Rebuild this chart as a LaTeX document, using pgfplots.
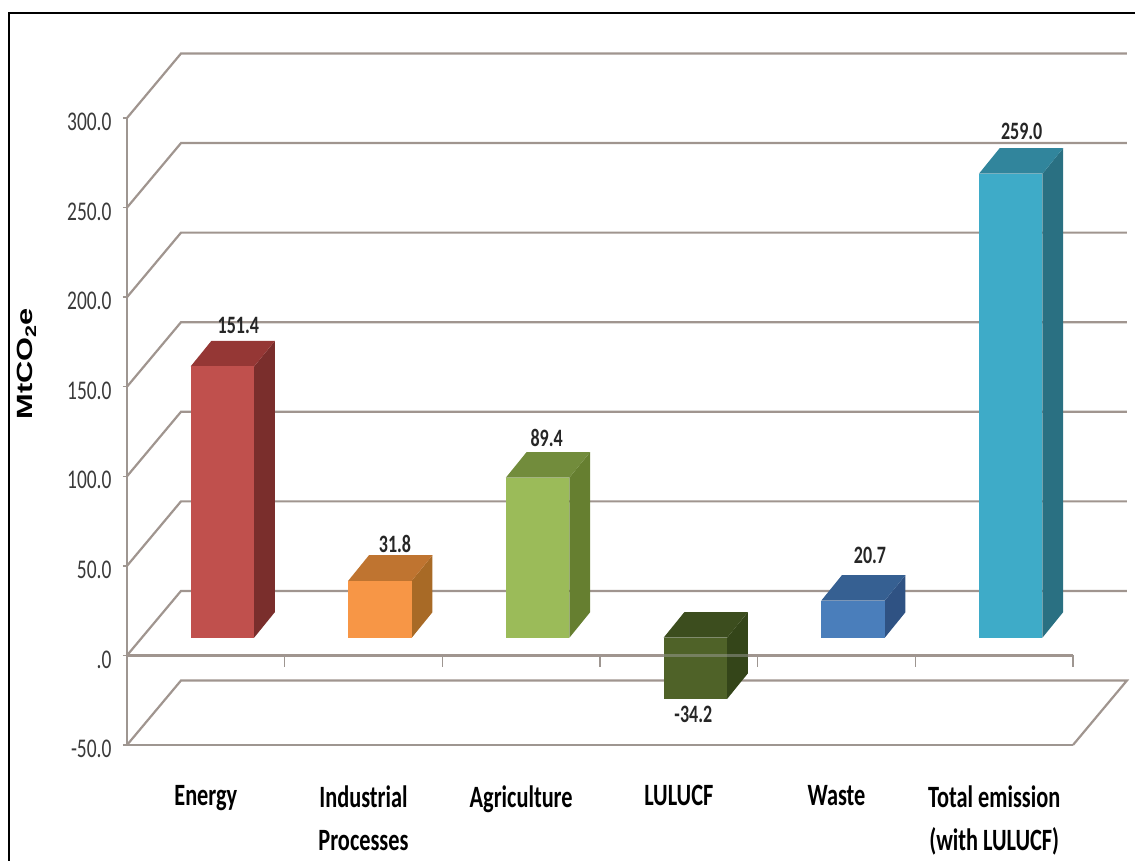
\documentclass[border=0pt]{standalone}
\usepackage{fontspec}
\usepackage{pgfplots}
\pgfplotsset{compat=1.18}
\setmainfont{Carlito}
\newfontfamily\lab[FakeStretch=0.72]{Carlito}
\newfontfamily\unit[FakeStretch=1.4]{Liberation Sans}

\definecolor{gridc}{HTML}{A0958F}
\definecolor{axisc}{HTML}{9E9691}
\definecolor{tickc}{HTML}{3A3A3A}
\definecolor{c1}{HTML}{C0504D}
\definecolor{c1top}{HTML}{953735}
\definecolor{c1side}{HTML}{7A2E2C}
\definecolor{c2}{HTML}{F79646}
\definecolor{c2top}{HTML}{BF7430}
\definecolor{c2side}{HTML}{A86A26}
\definecolor{c3}{HTML}{9BBB59}
\definecolor{c3top}{HTML}{728C3C}
\definecolor{c3side}{HTML}{667F30}
\definecolor{c4}{HTML}{4F6228}
\definecolor{c4top}{HTML}{3C4D1E}
\definecolor{c4side}{HTML}{344519}
\definecolor{c5}{HTML}{4A7EBB}
\definecolor{c5top}{HTML}{366092}
\definecolor{c5side}{HTML}{2F5283}
\definecolor{c6}{HTML}{3EABC8}
\definecolor{c6top}{HTML}{31859C}
\definecolor{c6side}{HTML}{2A7082}

\pgfplotsset{
  wall/.style={gridc, line width=2.2pt, forget plot},
  front/.style={ybar, bar width=63.5pt, bar shift=0pt, fill=#1, draw=none, forget plot,
    xshift=16.5pt, yshift=17.7pt},
  depth/.style={fill=#1, draw=none, forget plot, xshift=16.5pt, yshift=17.7pt},
  val/.style 2 args={nodes near coords, nodes near coords style={
    anchor=center, text=black!85, font=\lab\bfseries\fontsize{25}{25}\selectfont,
    xshift=#1, yshift=#2}},
}

\begin{document}
\begin{tikzpicture}[x=1pt,y=1pt]
\path[use as bounding box] (0,0) rectangle (1135,861);
\draw[black, line width=2.2pt] (9,0) -- (9,847.7) -- (1135,847.7);
\begin{axis}[
    at={(127pt,116pt)}, anchor=south west,
    scale only axis, width=946pt, height=627pt,
    xmin=-0.5, xmax=5.5, ymin=-50, ymax=300,
    clip=false,
    axis lines=left,
    axis line style={-, axisc, line width=1.6pt},
    xtick={0,1,2,3,4,5},
    xticklabels={Energy,{Industrial\\Processes},Agriculture,LULUCF,Waste,{Total emission\\(with LULUCF)}},
    x tick style={draw=none},
    xticklabel style={align=center, anchor=north, yshift=-33pt, text=black,
      font=\lab\bfseries\fontsize{31}{43}\selectfont},
    ytick={-50,0,50,100,150,200,250,300},
    yticklabels={-50.0,.0,50.0,100.0,150.0,200.0,250.0,300.0},
    y tick style={axisc, line width=1.4pt},
    tick align=outside,
    major tick length=4pt,
    yticklabel style={anchor=east, xshift=-8pt, yshift=-4pt, text=tickc,
      font=\lab\fontsize{27}{27}\selectfont},
    /pgf/number format/assume math mode=true,
    /pgf/number format/fixed, /pgf/number format/fixed zerofill, /pgf/number format/precision=1,
    ylabel={\textbf{MtCO\textsubscript{2}e}},
    every axis y label/.style={at={(axis description cs:-0.1062,0.608)}, rotate=90, anchor=center,
      font=\unit\fontsize{22}{22}\selectfont},
]
% back wall and floor
\addplot[wall] coordinates {(-0.5,300) (-0.1575,336) (5.842,336)};
\addplot[wall] coordinates {(-0.5,250) (-0.1575,286) (5.842,286)};
\addplot[wall] coordinates {(-0.5,200) (-0.1575,236) (5.842,236)};
\addplot[wall] coordinates {(-0.5,150) (-0.1575,186) (5.842,186)};
\addplot[wall] coordinates {(-0.5,100) (-0.1575,136) (5.842,136)};
\addplot[wall] coordinates {(-0.5,50) (-0.1575,86) (5.842,86)};
\addplot[wall] coordinates {(-0.5,0) (-0.1575,36) (5.842,36)};
\addplot[wall] coordinates {(-0.5,-50) (-0.1575,-14) (5.842,-14) (5.5,-50)};
% zero line and its ticks
\addplot[wall] coordinates {(-0.5,0) (5.5,0)};
\addplot[ycomb, axisc, line width=1.2pt, no marks, forget plot] coordinates {
  (0.5,-6.5) (1.5,-6.5) (2.5,-6.5) (3.5,-6.5) (4.5,-6.5) (5.5,-6.5)};

% Energy
\addplot[depth=c1side] coordinates {(0.2014,0) (0.3327,14.24) (0.3327,165.64) (0.2014,151.4)} --cycle;
\addplot[depth=c1top] coordinates {(-0.2014,151.4) (0.2014,151.4) (0.3327,165.64) (-0.0701,165.64)} --cycle;
\addplot[front=c1, val={16pt}{41pt}] coordinates {(0,151.4)};
% Industrial Processes
\addplot[depth=c2side] coordinates {(1.2014,0) (1.3327,14.24) (1.3327,46.04) (1.2014,31.8)} --cycle;
\addplot[depth=c2top] coordinates {(0.7986,31.8) (1.2014,31.8) (1.3327,46.04) (0.9299,46.04)} --cycle;
\addplot[front=c2, val={15pt}{37pt}] coordinates {(1,31.8)};
% Agriculture
\addplot[depth=c3side] coordinates {(2.2014,0) (2.3327,14.24) (2.3327,103.64) (2.2014,89.4)} --cycle;
\addplot[depth=c3top] coordinates {(1.7986,89.4) (2.2014,89.4) (2.3327,103.64) (1.9299,103.64)} --cycle;
\addplot[front=c3, val={9pt}{40pt}] coordinates {(2,89.4)};
% LULUCF
\addplot[depth=c4side] coordinates {(3.2014,0) (3.3327,14.24) (3.3327,-19.96) (3.2014,-34.2)} --cycle;
\addplot[depth=c4top] coordinates {(2.7986,0) (3.2014,0) (3.3327,14.24) (2.9299,14.24)} --cycle;
\addplot[front=c4, val={-2pt}{-15pt}] coordinates {(3,-34.2)};
% Waste
\addplot[depth=c5side] coordinates {(4.2014,0) (4.3327,14.24) (4.3327,34.94) (4.2014,20.7)} --cycle;
\addplot[depth=c5top] coordinates {(3.7986,20.7) (4.2014,20.7) (4.3327,34.94) (3.9299,34.94)} --cycle;
\addplot[front=c5, val={17pt}{45pt}] coordinates {(4,20.7)};
% Total emission
\addplot[depth=c6side] coordinates {(5.2014,0) (5.3327,14.24) (5.3327,273.24) (5.2014,259)} --cycle;
\addplot[depth=c6top] coordinates {(4.7986,259) (5.2014,259) (5.3327,273.24) (4.9299,273.24)} --cycle;
\addplot[front=c6, val={11pt}{42pt}] coordinates {(5,259)};

% zero line showing through the LULUCF bar
\addplot[gray!70, line width=2.2pt, opacity=0.45, forget plot] coordinates {(2.901,0) (3.437,0)};
\end{axis}
\end{tikzpicture}
\end{document}
